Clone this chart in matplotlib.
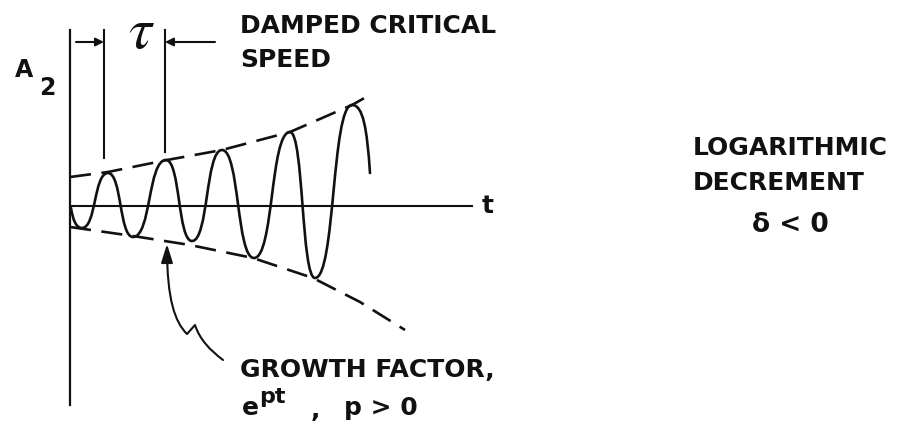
import numpy as np
import matplotlib
matplotlib.use("Agg")
import matplotlib.pyplot as plt
from matplotlib.path import Path
from matplotlib.patches import PathPatch, FancyArrowPatch

# everything in pixel units (x right, y down)
# axes
axis_x = 70
axis_top, axis_bottom = 30, 405
base_y = 206
base_end = 472

# extrema of the growing oscillation
wave_start = (71, 208)
ext_x = [82, 108, 133, 166, 192, 222, 254, 290, 315, 352]
ext_y = [228, 173, 237, 160, 241, 150, 258, 132, 278, 105]
wave_end = (370, 173)

# dashed envelopes
upper_x = [70, 108, 167, 222, 290, 352, 368]
upper_y = [177, 172, 160, 150, 132, 105, 96]
lower_x = [70, 133, 190, 253, 313, 360, 405]
lower_y = [227, 236, 245, 258, 278, 302, 330]

# period marker lines and arrows
marker_x = [104, 165]
marker_bottom = [158, 152]
marker_top = 30
arrow_y = 42

# curved pointer to lower envelope (tail, kink, tip)
ptr_tail = (223, 360)
ptr_kink = [(195, 325), (187, 334)]
ptr_tip = (167, 244)

fig = plt.figure(figsize=(9.22, 4.22), dpi=100)
ax = fig.add_axes([0, 0, 1, 1])
ax.set_xlim(0, 922)
ax.set_ylim(422, 0)
ax.axis("off")

ink = "#111111"

# axes lines
ax.plot([axis_x, axis_x], [axis_top, axis_bottom], color=ink, lw=1.6)
ax.plot([axis_x, base_end], [base_y, base_y], color=ink, lw=1.5)

# oscillation as half-wave bezier segments between extrema
verts = [wave_start]
codes = [Path.MOVETO]
px, py = wave_start
verts += [(px + 2, py + 12), (ext_x[0] - 6, ext_y[0]), (ext_x[0], ext_y[0])]
codes += [Path.CURVE4] * 3
for i in range(1, len(ext_x)):
    x1, y1 = ext_x[i - 1], ext_y[i - 1]
    x2, y2 = ext_x[i], ext_y[i]
    dx = x2 - x1
    verts += [(x1 + 0.55 * dx, y1), (x2 - 0.55 * dx, y2), (x2, y2)]
    codes += [Path.CURVE4] * 3
x1, y1 = ext_x[-1], ext_y[-1]
verts += [(x1 + 11, y1), (wave_end[0] - 3, wave_end[1] - 45), wave_end]
codes += [Path.CURVE4] * 3
ax.add_patch(PathPatch(Path(verts, codes), fill=False, color=ink, lw=1.9,
                       capstyle="round"))

# envelopes
ax.plot(upper_x, upper_y, color=ink, lw=1.9, dashes=(8, 4))
ax.plot(lower_x, lower_y, color=ink, lw=1.9, dashes=(8, 4))

# period markers
for mx, mb in zip(marker_x, marker_bottom):
    ax.plot([mx, mx], [marker_top, mb], color=ink, lw=1.5)
ax.annotate("", xy=(marker_x[0], arrow_y), xytext=(76, arrow_y),
            arrowprops=dict(arrowstyle="-|>", color=ink, lw=1.5,
                            mutation_scale=12, shrinkA=0, shrinkB=0))
ax.annotate("", xy=(marker_x[1], arrow_y), xytext=(215, arrow_y),
            arrowprops=dict(arrowstyle="-|>", color=ink, lw=1.5,
                            mutation_scale=12, shrinkA=0, shrinkB=0))
ax.text(141, 48, r"$\tau$", fontsize=42, ha="center", va="baseline",
        color=ink, math_fontfamily="stix")

# curved pointer
ptr_path = Path([ptr_tail, (210, 350), (200, 340), ptr_kink[0], ptr_kink[1],
                 (175, 322), (167, 300), ptr_tip],
                [Path.MOVETO, Path.CURVE4, Path.CURVE4, Path.CURVE4,
                 Path.LINETO, Path.CURVE4, Path.CURVE4, Path.CURVE4])
ax.add_patch(FancyArrowPatch(path=ptr_path,
                             arrowstyle="-|>,head_width=0.22,head_length=0.7",
                             mutation_scale=16, color=ink, lw=1.5))

font = dict(family="DejaVu Sans", fontweight="bold", color=ink,
            va="baseline", ha="left")
ax.text(15, 77, "A", fontsize=17, **font)
ax.text(39, 95, "2", fontsize=17, **font)
ax.text(240, 33, "DAMPED CRITICAL", fontsize=18, **font)
ax.text(240, 67, "SPEED", fontsize=18, **font)
ax.text(482, 213, "t", fontsize=18, **font)
ax.text(693, 155, "LOGARITHMIC", fontsize=18, **font)
ax.text(693, 190, "DECREMENT", fontsize=18, **font)
ax.text(752, 232, "δ < 0", fontsize=19, **font)
ax.text(240, 377, "GROWTH FACTOR,", fontsize=18, **font)
ax.text(242, 415, "e", fontsize=18, **font)
ax.text(259, 403, "pt", fontsize=16, **font)
ax.text(311, 417, ",", fontsize=18, **font)
ax.text(344, 415, "p > 0", fontsize=18, **font)

fig.savefig("out.png", dpi=100, facecolor="white")
